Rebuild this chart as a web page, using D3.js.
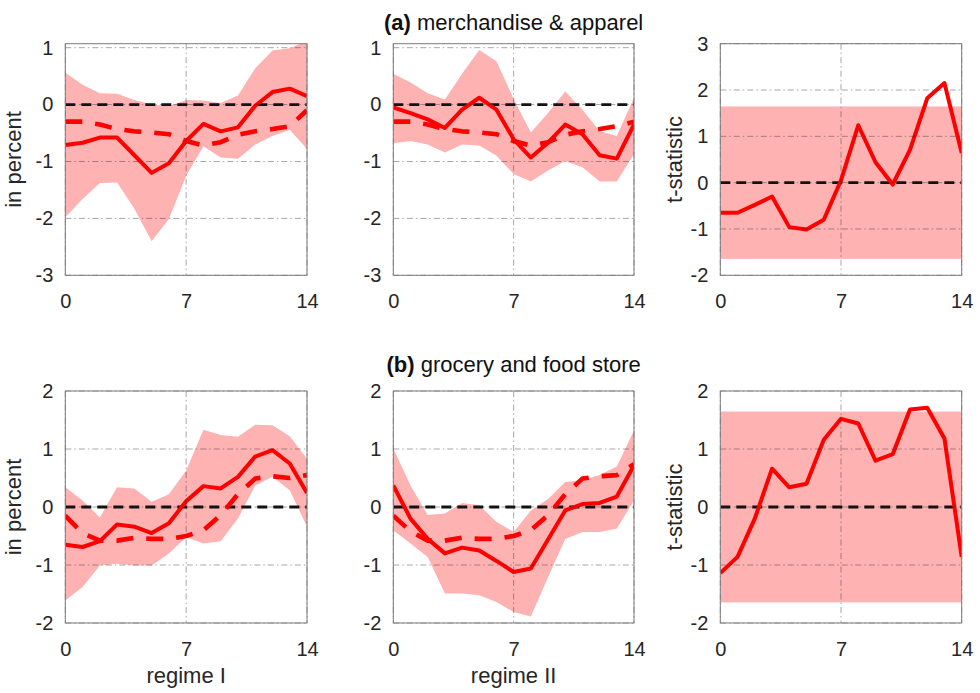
<!DOCTYPE html>
<html>
<head>
<meta charset="utf-8">
<script src="https://cdn.jsdelivr.net/npm/d3@7"></script>
<style>
  html, body { margin: 0; padding: 0; background: #fff; }
  svg { display: block; font-family: "Liberation Sans", Arial, sans-serif; }
</style>
</head>
<body>
<svg id="chart" width="980" height="693"></svg>
<script>
// ---------------- data ----------------
const horizon = [0, 1, 2, 3, 4, 5, 6, 7, 8, 9, 10, 11, 12, 13, 14];
const xTicks = [0, 7, 14];
const yTicksTopIRF = [-3, -2, -1, 0, 1];
const yTicksTopT = [-2, -1, 0, 1, 2, 3];
const yTicksBottom = [-2, -1, 0, 1, 2];
const critVal = 1.645;

const titleA = "merchandise & apparel";
const titleB = "grocery and food store";
const xLabels = ["regime I", "regime II"];
const yLabelIRF = "in percent";
const yLabelT = "t-statistic";

// (a) regime I
const a1Solid  = [-0.71, -0.67, -0.58, -0.58, -0.89, -1.20, -1.03, -0.64, -0.34, -0.47, -0.40, -0.02, 0.22, 0.28, 0.15];
const a1Dashed = [-0.30, -0.30, -0.35, -0.43, -0.47, -0.49, -0.52, -0.64, -0.72, -0.66, -0.53, -0.47, -0.43, -0.38, -0.10];
const a1Upper  = [0.56, 0.35, 0.20, 0.19, 0.08, 0.00, -0.03, 0.08, 0.07, 0.03, 0.16, 0.64, 0.95, 0.99, 1.12];
const a1Lower  = [-1.98, -1.66, -1.38, -1.37, -1.83, -2.40, -2.01, -1.25, -0.73, -0.93, -0.95, -0.70, -0.55, -0.44, -0.78];
// (a) regime II
const a2Solid  = [-0.05, -0.15, -0.26, -0.41, -0.09, 0.12, -0.09, -0.61, -0.93, -0.67, -0.35, -0.52, -0.89, -0.95, -0.35];
const a2Dashed = [-0.30, -0.30, -0.35, -0.43, -0.47, -0.49, -0.52, -0.64, -0.72, -0.66, -0.53, -0.47, -0.43, -0.38, -0.30];
const a2Upper  = [0.54, 0.39, 0.20, 0.09, 0.54, 0.96, 0.76, 0.10, -0.49, -0.15, 0.23, -0.09, -0.47, -0.55, 0.12];
const a2Lower  = [-0.68, -0.64, -0.70, -0.84, -0.70, -0.72, -0.90, -1.22, -1.35, -1.16, -0.99, -1.10, -1.35, -1.35, -0.87];
// (a) t-statistic
const a3T      = [-0.65, -0.65, -0.48, -0.30, -0.96, -1.01, -0.80, 0.05, 1.24, 0.44, -0.04, 0.71, 1.82, 2.15, 0.64];

// (b) regime I
const b1Solid  = [-0.65, -0.69, -0.59, -0.30, -0.34, -0.45, -0.28, 0.10, 0.36, 0.32, 0.52, 0.87, 0.98, 0.75, 0.24];
const b1Dashed = [-0.15, -0.45, -0.58, -0.58, -0.53, -0.55, -0.55, -0.50, -0.40, -0.14, 0.22, 0.49, 0.53, 0.50, 0.55];
const b1Upper  = [0.34, 0.11, -0.18, 0.34, 0.32, 0.09, 0.22, 0.63, 1.33, 1.24, 1.21, 1.42, 1.41, 1.22, 0.83];
const b1Lower  = [-1.61, -1.38, -1.01, -0.98, -1.01, -1.01, -0.80, -0.52, -0.63, -0.59, -0.20, 0.37, 0.52, 0.29, -0.34];
// (b) regime II
const b2Solid  = [0.37, -0.20, -0.55, -0.80, -0.70, -0.75, -0.93, -1.12, -1.06, -0.56, -0.06, 0.05, 0.07, 0.18, 0.72];
const b2Dashed = [-0.15, -0.42, -0.58, -0.58, -0.53, -0.55, -0.55, -0.50, -0.40, -0.14, 0.22, 0.49, 0.53, 0.55, 0.74];
const b2Upper  = [1.01, 0.37, -0.14, -0.11, 0.07, 0.03, -0.26, -0.43, -0.06, 0.14, 0.43, 0.46, 0.55, 0.70, 1.32];
const b2Lower  = [-0.40, -0.63, -0.86, -1.49, -1.49, -1.52, -1.64, -1.81, -1.89, -1.21, -0.55, -0.43, -0.43, -0.37, 0.11];
// (b) t-statistic
const b3T      = [-1.14, -0.86, -0.20, 0.66, 0.34, 0.40, 1.16, 1.52, 1.44, 0.80, 0.91, 1.68, 1.71, 1.18, -0.86];

// ---------------- layout ----------------
const svg = d3.select("#chart");
const cols = [[65.3, 307], [393.3, 634], [720.3, 961.7]];
const rows = [[43.7, 275.3], [391, 623]];
const RED = "#ff0000";
const BAND = "#ffb2b2";
const TXT = "#262626";

let clipId = 0;
function panel(col, row, yDomain, yTicks, cfg) {
  const [x0, x1] = cols[col];
  const [y0, y1] = rows[row];
  const x = d3.scaleLinear().domain([0, 14]).range([x0, x1]);
  const y = d3.scaleLinear().domain(yDomain).range([y1, y0]);
  const id = "clip" + (clipId++);
  svg.append("clipPath").attr("id", id)
    .append("rect").attr("x", x0).attr("y", y0).attr("width", x1 - x0).attr("height", y1 - y0);
  const g = svg.append("g");
  const inner = g.append("g").attr("clip-path", `url(#${id})`);

  // band
  if (cfg.lower) {
    const area = d3.area().x((d, i) => x(horizon[i])).y0((d, i) => y(cfg.lower[i])).y1((d, i) => y(cfg.upper[i]));
    inner.append("path").datum(cfg.upper).attr("d", area).attr("fill", BAND);
  }
  if (cfg.crit) {
    inner.append("rect").attr("x", x0).attr("width", x1 - x0)
      .attr("y", y(cfg.crit)).attr("height", y(-cfg.crit) - y(cfg.crit)).attr("fill", BAND);
  }

  // grid (dash-dot)
  const grid = g.append("g").attr("stroke", "#262626").attr("stroke-opacity", 0.45)
    .attr("stroke-width", 0.9).attr("stroke-dasharray", "6,3,1.5,3").attr("fill", "none");
  yTicks.forEach(t => {
    grid.append("line").attr("x1", x0).attr("x2", x1).attr("y1", y(t)).attr("y2", y(t));
  });
  xTicks.forEach(t => {
    grid.append("line").attr("x1", x(t)).attr("x2", x(t)).attr("y1", y0).attr("y2", y1);
  });

  // zero line
  inner.append("line").attr("x1", x0).attr("x2", x1).attr("y1", y(0)).attr("y2", y(0))
    .attr("stroke", "#111").attr("stroke-width", 2.8).attr("stroke-dasharray", "10,6");

  const line = d3.line().x((d, i) => x(horizon[i])).y(d => y(d));
  if (cfg.dashed) {
    inner.append("path").datum(cfg.dashed).attr("d", line).attr("fill", "none")
      .attr("stroke", RED).attr("stroke-width", 4.6).attr("stroke-dasharray", "17,13")
      .attr("stroke-linejoin", "round");
  }
  inner.append("path").datum(cfg.solid).attr("d", line).attr("fill", "none")
    .attr("stroke", RED).attr("stroke-width", 4).attr("stroke-linejoin", "round");

  // box
  g.append("rect").attr("x", x0).attr("y", y0).attr("width", x1 - x0).attr("height", y1 - y0)
    .attr("fill", "none").attr("stroke", "#7a7a7a").attr("stroke-width", 1);

  // axes labels via d3 axes (no lines)
  const ax = g.append("g").attr("transform", `translate(0,${y1})`)
    .call(d3.axisBottom(x).tickValues(xTicks).tickSize(0).tickPadding(19).tickFormat(d3.format("d")));
  const ay = g.append("g").attr("transform", `translate(${x0},0)`)
    .call(d3.axisLeft(y).tickValues(yTicks).tickSize(0).tickPadding(12).tickFormat(d => d < 0 ? "-" + Math.abs(d) : String(d)));
  [ax, ay].forEach(a => {
    a.select(".domain").remove();
    a.selectAll("text").attr("font-size", 20).attr("fill", TXT)
      .attr("font-family", '"Liberation Sans", Arial, sans-serif');
  });

  if (cfg.ylabel) {
    g.append("text").attr("transform", `translate(${x0 - cfg.ylabelOffset},${(y0 + y1) / 2}) rotate(-90)`)
      .attr("text-anchor", "middle").attr("font-size", 22).attr("fill", TXT).text(cfg.ylabel);
  }
  if (cfg.xlabel) {
    g.append("text").attr("x", x(7)).attr("y", 683).attr("text-anchor", "middle")
      .attr("font-size", 22).attr("fill", TXT).text(cfg.xlabel);
  }
}

// titles
function title(letter, txt, yb) {
  const t = svg.append("text").attr("x", (cols[1][0] + cols[1][1]) / 2).attr("y", yb)
    .attr("text-anchor", "middle").attr("font-size", 22).attr("fill", "#111");
  t.append("tspan").attr("font-weight", "bold").text(letter + " ");
  t.append("tspan").text(txt);
}
title("(a)", titleA, 30);
title("(b)", titleB, 372);

const topIRF = [-3, 1.07];
panel(0, 0, topIRF, yTicksTopIRF, { solid: a1Solid, dashed: a1Dashed, lower: a1Lower, upper: a1Upper, ylabel: yLabelIRF, ylabelOffset: 44 });
panel(1, 0, topIRF, yTicksTopIRF, { solid: a2Solid, dashed: a2Dashed, lower: a2Lower, upper: a2Upper });
panel(2, 0, [-2, 3], yTicksTopT, { solid: a3T, crit: critVal, ylabel: yLabelT, ylabelOffset: 38 });

panel(0, 1, [-2, 2], yTicksBottom, { solid: b1Solid, dashed: b1Dashed, lower: b1Lower, upper: b1Upper, ylabel: yLabelIRF, ylabelOffset: 44, xlabel: xLabels[0] });
panel(1, 1, [-2, 2], yTicksBottom, { solid: b2Solid, dashed: b2Dashed, lower: b2Lower, upper: b2Upper, xlabel: xLabels[1] });
panel(2, 1, [-2, 2], yTicksBottom, { solid: b3T, crit: critVal, ylabel: yLabelT, ylabelOffset: 38 });
</script>
</body>
</html>
